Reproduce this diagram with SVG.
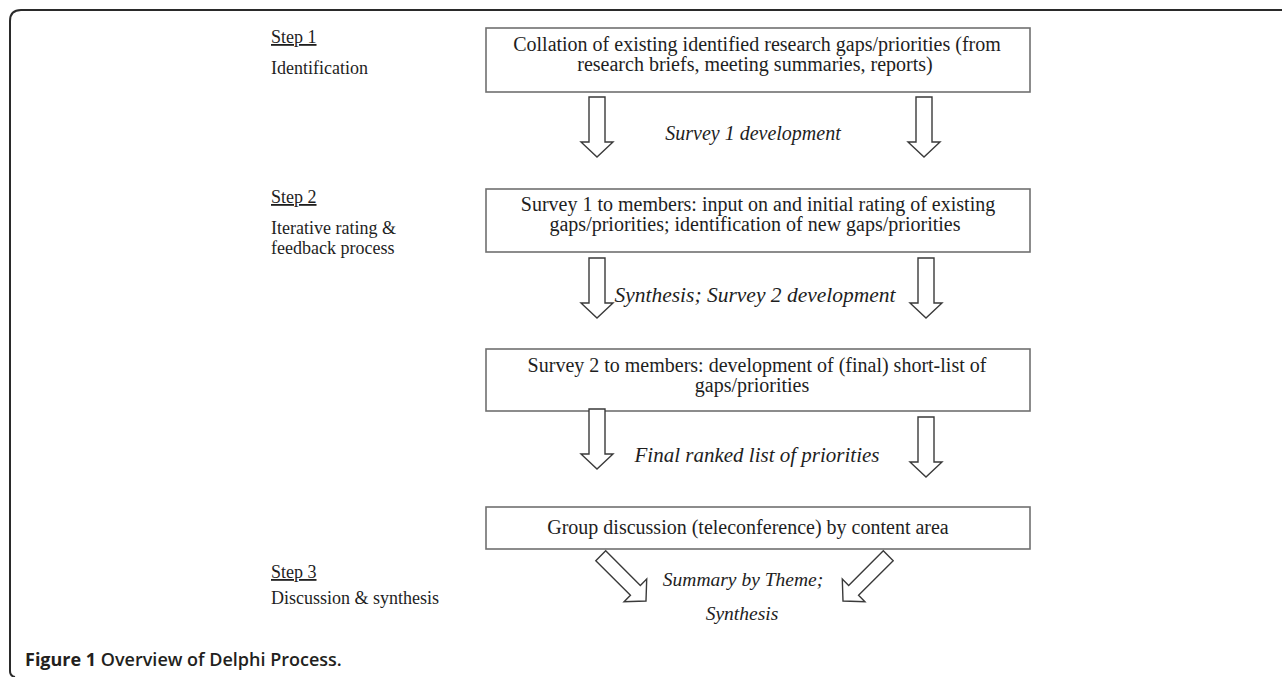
<svg xmlns="http://www.w3.org/2000/svg" width="1282" height="677" viewBox="0 0 1282 677">
<defs>
<style>
.t{font-family:"Liberation Serif","Times New Roman",serif;font-size:20px;fill:#1e1e1e}
.s{font-size:18px}
.i{font-style:italic}
.m{text-anchor:middle}
.u{text-decoration:underline}
.box{fill:#fff;stroke:#707070;stroke-width:1.6}
.arr{fill:#fff;stroke:#3a3a3a;stroke-width:1.4;stroke-linejoin:miter}
.cap{font-family:"Open Sans","Noto Sans",sans-serif;font-size:18px;font-weight:600;fill:#231f20}
</style>
<polygon id="down" points="-8,-60 8,-60 8,-15 16,-15 0,0 -16,-15 -8,-15"/>
<polygon id="diag" points="-7,-64 7,-64 7,-15 16,-15 0,0 -16,-15 -7,-15"/>
</defs>
<rect width="1282" height="677" fill="#fff"/>
<path d="M15 677 Q10 676 10 671 V21 Q10 10 21 10 H1282" fill="none" stroke="#2a2a2a" stroke-width="2"/>

<g id="step1-label">
<text class="t s u" x="271" y="43">Step 1</text>
<text class="t s" x="271" y="74">Identification</text>
</g>
<g id="step2-label">
<text class="t s u" x="271" y="203">Step 2</text>
<text class="t s" x="271" y="234">Iterative rating &amp;</text>
<text class="t s" x="271" y="254">feedback process</text>
</g>
<g id="step3-label">
<text class="t s u" x="271" y="578">Step 3</text>
<text class="t s" x="271" y="604">Discussion &amp; synthesis</text>
</g>

<g id="box1">
<rect class="box" x="486" y="28" width="544" height="64"/>
<text class="t m" x="757" y="51">Collation of existing identified research gaps/priorities (from</text>
<text class="t m" x="755" y="71">research briefs, meeting summaries, reports)</text>
</g>
<g id="box2">
<rect class="box" x="486" y="189" width="544" height="63"/>
<text class="t m" x="758" y="211">Survey 1 to members: input on and initial rating of existing</text>
<text class="t m" x="755" y="231">gaps/priorities; identification of new gaps/priorities</text>
</g>
<g id="box3">
<rect class="box" x="486" y="349" width="544" height="62"/>
<text class="t m" x="757" y="372">Survey 2 to members: development of (final) short-list of</text>
<text class="t m" x="752" y="392">gaps/priorities</text>
</g>
<g id="box4">
<rect class="box" x="486" y="507" width="544" height="42"/>
<text class="t m" x="748" y="534">Group discussion (teleconference) by content area</text>
</g>

<g id="connectors">
<use href="#down" class="arr" transform="translate(597,157)"/>
<use href="#down" class="arr" transform="translate(924,157)"/>
<use href="#down" class="arr" transform="translate(597,318)"/>
<use href="#down" class="arr" transform="translate(926,318)"/>
<use href="#down" class="arr" transform="translate(597,469)"/>
<use href="#down" class="arr" transform="translate(926,477)"/>
<use href="#diag" class="arr" transform="translate(646,601) rotate(-45)"/>
<use href="#diag" class="arr" transform="translate(843,601) rotate(45)"/>
<text class="t i m" x="753" y="140">Survey 1 development</text>
<text class="t i m" style="font-size:21.5px" x="755" y="302">Synthesis; Survey 2 development</text>
<text class="t i m" style="font-size:21px" x="757" y="462">Final ranked list of priorities</text>
<text class="t i m" style="font-size:19.5px" x="743" y="586">Summary by Theme;</text>
<text class="t i m" style="font-size:19.5px" x="742" y="620">Synthesis</text>
</g>

<g id="caption">
<text class="cap" x="25" y="666"><tspan font-weight="700">Figure 1</tspan> Overview of Delphi Process.</text>
</g>
</svg>
